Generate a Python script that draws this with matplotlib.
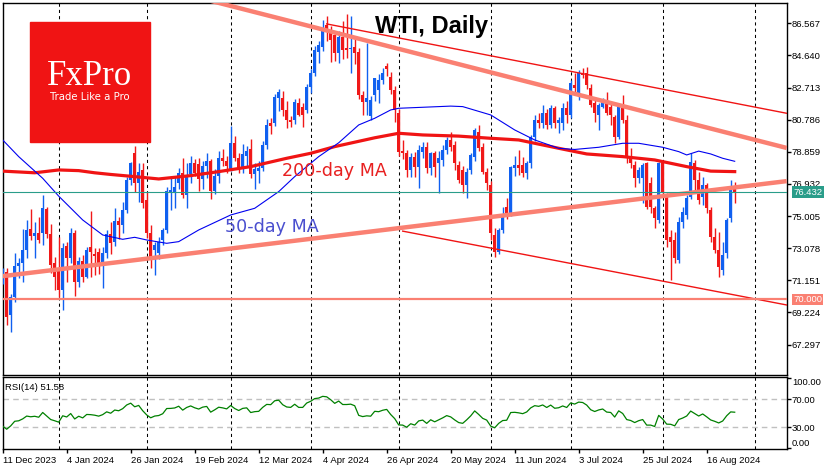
import numpy as np
import matplotlib
matplotlib.use("Agg")
import matplotlib.pyplot as plt
from matplotlib.patches import Rectangle
from matplotlib.transforms import offset_copy

plt.rcParams['font.family'] = ['Liberation Sans', 'DejaVu Sans']

# daily bars, index 0 = 11 Dec 2023 ... 183 = 27 Aug 2024
opens = [71.20, 71.67, 69.07, 70.17, 72.00, 72.17, 72.97, 74.23, 73.81, 73.97,
         73.97, 75.43, 73.93, 72.17, 71.87, 70.57, 73.21, 72.47, 73.97, 71.07,
         72.31, 71.37, 73.17, 72.73, 72.83, 72.17, 72.77, 73.93, 73.47, 74.73,
         74.47, 75.37, 77.17, 78.77, 76.97, 77.77, 75.97, 73.97, 72.97, 72.77,
         73.57, 74.17, 76.37, 76.47, 76.97, 77.57, 76.27, 77.50, 78.20, 78.10,
         77.20, 78.00, 78.30, 76.50, 77.40, 78.50, 78.30, 77.80, 79.40, 78.50,
         77.90, 78.60, 79.00, 77.50, 77.70, 77.90, 79.27, 80.60, 80.57, 82.07,
         82.10, 81.37, 80.77, 80.77, 81.77, 81.57, 81.37, 82.77, 83.57, 84.87,
         85.17, 86.47, 86.17, 85.87, 84.77, 85.77, 85.07, 85.00, 85.17, 84.87,
         82.27, 81.87, 81.00, 82.27, 82.57, 83.17, 84.00, 83.37, 82.57, 81.17,
         78.90, 78.77, 77.77, 78.57, 77.97, 78.87, 79.17, 77.87, 78.77, 78.17,
         78.37, 78.97, 79.57, 79.27, 78.07, 77.77, 76.87, 77.77, 78.57, 80.07,
         79.13, 77.67, 76.87, 73.87, 72.87, 74.17, 75.57, 75.17, 77.90, 78.07,
         78.07, 77.57, 78.17, 79.77, 80.77, 80.57, 81.17, 80.47, 81.47, 80.57,
         80.57, 81.47, 81.07, 82.87, 82.37, 83.57, 83.57, 82.67, 81.77, 81.07,
         81.57, 81.77, 81.57, 80.97, 79.77, 81.57, 80.77, 78.57, 78.07, 77.27,
         77.27, 78.17, 76.97, 75.47, 74.77, 78.17, 76.17, 73.77, 73.57, 72.37,
         74.67, 75.07, 76.17, 78.17, 77.17, 76.17, 76.87, 75.37, 73.77, 72.97,
         71.77, 72.77, 74.87, 76.77]
highs = [71.90, 71.90, 70.30, 72.77, 72.50, 74.20, 74.77, 75.43, 74.67, 74.93,
         76.27, 75.57, 74.51, 72.57, 73.77, 73.37, 73.47, 74.31, 74.17, 72.57,
         72.67, 73.17, 75.31, 73.07, 73.07, 73.17, 74.17, 74.63, 75.47, 74.97,
         75.87, 77.37, 78.27, 79.21, 78.17, 78.17, 76.47, 74.47, 73.47, 73.77,
         74.27, 76.77, 77.37, 77.37, 77.87, 78.47, 78.20, 78.60, 78.40, 78.50,
         78.30, 78.80, 78.40, 77.80, 78.90, 79.00, 78.60, 80.40, 79.80, 78.80,
         79.30, 79.20, 79.60, 78.20, 78.30, 79.50, 80.80, 80.90, 82.30, 82.60,
         82.50, 81.90, 81.00, 82.00, 82.10, 81.80, 82.90, 83.80, 85.20, 85.50,
         86.77, 87.00, 86.40, 86.10, 86.10, 86.70, 87.10, 87.00, 85.60, 85.10,
         82.50, 85.40, 82.20, 83.30, 83.50, 83.87, 84.17, 83.67, 82.80, 81.40,
         79.57, 78.97, 78.77, 78.87, 79.27, 79.47, 79.47, 78.87, 78.90, 78.90,
         79.27, 79.77, 80.07, 79.50, 78.30, 78.00, 77.90, 78.80, 80.27, 80.47,
         79.40, 77.90, 77.10, 74.30, 74.27, 75.57, 76.07, 78.00, 78.60, 78.97,
         78.57, 78.30, 79.87, 81.07, 81.20, 81.67, 81.40, 81.67, 81.60, 80.97,
         81.77, 81.90, 83.17, 83.57, 83.77, 83.87, 83.97, 82.90, 81.97, 81.77,
         82.07, 82.47, 81.70, 81.07, 81.67, 82.27, 81.07, 79.07, 78.30, 77.97,
         78.17, 78.27, 77.37, 75.60, 78.27, 78.27, 76.40, 74.17, 74.07, 74.97,
         75.57, 76.27, 78.77, 78.37, 77.67, 77.37, 76.97, 75.57, 74.27, 74.07,
         73.47, 74.87, 77.17, 77.07]
lows = [70.90, 68.47, 68.03, 69.87, 71.30, 71.07, 72.47, 73.57, 72.47, 73.37,
        73.27, 73.70, 71.57, 70.57, 70.17, 69.37, 71.07, 72.20, 70.23, 70.77,
        71.07, 71.27, 71.37, 71.47, 71.50, 70.67, 72.50, 72.70, 73.20, 73.60,
        74.00, 75.20, 76.87, 76.47, 75.87, 75.50, 73.70, 71.87, 71.47, 72.40,
        73.27, 74.00, 75.37, 75.47, 76.60, 76.07, 75.50, 77.00, 77.40, 76.50,
        76.60, 77.30, 76.00, 76.30, 77.00, 78.00, 77.60, 77.70, 78.30, 77.60,
        77.60, 78.00, 77.30, 76.60, 77.00, 77.70, 79.00, 79.90, 80.40, 81.30,
        81.00, 80.30, 80.37, 80.50, 81.00, 80.37, 81.20, 82.40, 83.40, 84.20,
        84.90, 85.50, 84.27, 84.30, 84.20, 84.40, 84.50, 83.60, 84.10, 82.00,
        81.07, 81.07, 80.77, 81.90, 81.77, 82.90, 83.40, 82.30, 80.67, 78.60,
        78.40, 77.37, 77.37, 77.37, 76.67, 78.50, 77.60, 77.47, 77.37, 76.37,
        78.00, 78.70, 78.90, 77.77, 77.00, 76.37, 76.07, 77.50, 78.30, 78.90,
        77.50, 76.57, 73.57, 72.57, 72.70, 74.00, 74.80, 75.00, 77.40, 77.47,
        77.37, 77.20, 77.90, 79.50, 80.30, 80.30, 80.20, 80.30, 80.30, 79.97,
        80.17, 80.57, 80.90, 82.37, 81.97, 83.30, 82.60, 81.57, 80.67, 80.17,
        81.47, 81.07, 80.47, 79.37, 79.60, 80.60, 78.17, 77.90, 76.77, 77.00,
        75.77, 75.40, 75.20, 74.27, 74.60, 76.20, 73.17, 71.17, 72.20, 72.20,
        74.30, 74.80, 76.00, 76.47, 75.70, 75.67, 75.20, 73.47, 72.77, 71.37,
        71.47, 72.50, 74.67, 75.77]
closes = [71.50, 68.97, 70.17, 72.00, 72.20, 72.97, 74.17, 73.81, 74.01, 73.57,
          75.47, 73.91, 72.07, 71.37, 70.57, 73.07, 72.47, 73.97, 71.07, 72.31,
          71.37, 72.97, 72.87, 72.61, 72.17, 72.77, 73.93, 73.37, 74.73, 74.47,
          75.37, 77.17, 78.17, 76.97, 77.67, 75.77, 73.97, 72.57, 73.27, 73.47,
          74.17, 76.50, 76.57, 76.77, 77.57, 76.27, 77.47, 78.20, 77.60, 77.20,
          78.00, 78.30, 76.50, 77.40, 78.50, 78.30, 78.00, 79.40, 78.50, 77.90,
          78.70, 78.90, 77.50, 77.80, 77.90, 79.27, 80.47, 80.40, 82.17, 82.47,
          81.37, 80.77, 80.67, 81.87, 81.07, 81.07, 82.77, 83.57, 84.97, 85.27,
          86.27, 86.17, 85.57, 84.77, 85.77, 84.97, 84.97, 85.10, 84.77, 82.27,
          81.87, 82.07, 81.97, 83.27, 83.17, 83.57, 83.80, 82.57, 81.37, 78.87,
          78.80, 77.77, 78.57, 77.97, 78.97, 79.17, 77.87, 78.77, 77.97, 78.47,
          78.97, 79.57, 79.17, 78.17, 77.17, 76.87, 77.67, 78.67, 80.17, 79.07,
          77.67, 76.97, 73.97, 72.87, 74.17, 75.07, 75.17, 77.97, 78.07, 77.87,
          77.57, 78.17, 79.77, 80.77, 80.57, 81.17, 80.47, 81.47, 80.57, 80.77,
          81.47, 81.07, 82.97, 82.67, 83.57, 83.47, 82.87, 81.67, 81.17, 81.67,
          81.97, 81.17, 81.07, 79.77, 81.57, 80.77, 78.57, 78.17, 77.27, 77.77,
          78.07, 75.57, 75.57, 74.87, 78.17, 76.47, 73.57, 73.47, 72.47, 74.67,
          75.27, 76.07, 78.27, 77.17, 75.97, 76.87, 75.47, 73.77, 72.97, 71.97,
          72.67, 74.77, 76.57, 76.43]
# closes before the visible range (for the RSI start)
prior_closes = [77.83, 77.77, 77.10, 75.54, 74.86, 76.41, 77.86, 75.96, 74.07,
                72.04, 72.32, 69.38, 69.34, 71.23]

# moving averages (bar index, value)
ma50_bars = [0, 4, 10, 14, 20, 25, 30, 33, 36, 41, 44, 49, 57, 63, 69, 73, 79, 84,
             89, 93, 97, 99, 105, 112, 115, 122, 128, 133, 139, 143, 149, 155,
             159, 165, 169, 171, 174, 177, 180, 183]
ma50_vals = [79.57, 78.57, 77.27, 76.20, 74.77, 73.87, 73.61, 73.73, 73.57, 73.37,
             73.47, 74.17, 75.07, 75.47, 76.47, 77.37, 78.57, 79.40, 80.47, 80.87,
             81.37, 81.47, 81.53, 81.60, 81.57, 81.07, 80.17, 79.57, 79.07, 79.00,
             79.13, 79.37, 79.37, 79.13, 78.87, 78.67, 78.90, 78.73, 78.47, 78.29]
ma200_bars = [0, 8, 14, 19, 23, 27, 33, 39, 47, 54, 62, 71, 77, 83, 93, 99, 105,
              114, 122, 129, 139, 146, 155, 163, 171, 177, 183]
ma200_vals = [77.70, 77.60, 77.77, 77.73, 77.60, 77.50, 77.37, 77.23, 77.43, 77.67,
              77.97, 78.47, 78.77, 79.17, 79.70, 79.97, 79.87, 79.80, 79.67, 79.57,
              79.07, 78.73, 78.57, 78.37, 77.97, 77.70, 77.67]

# drawn lines (bar index, price)
support_x, support_y = [0, 196], [71.40, 77.10]
resist_x, resist_y = [40, 196], [88.65, 79.09]
chan_up_x, chan_up_y = [81, 196], [86.53, 81.17]
chan_dn_x, chan_dn_y = [100, 196], [74.10, 69.67]
level_price = 70.0
last_price = 76.432

price_ticks = [86.567, 84.640, 82.713, 80.786, 78.859, 76.932, 75.005, 73.078,
               71.151, 69.224, 67.297]
date_bars = [0, 16, 32, 48, 64, 80, 96, 112, 128, 144, 160, 176]
date_labels = ['11 Dec 2023', '4 Jan 2024', '26 Jan 2024', '19 Feb 2024',
               '12 Mar 2024', '4 Apr 2024', '26 Apr 2024', '20 May 2024',
               '11 Jun 2024', '3 Jul 2024', '25 Jul 2024', '16 Aug 2024']
month_bars = [14, 36, 57, 77, 99, 122, 142, 165, 188]

BLUE = '#1060f0'
RED = '#f01818'
SALMON = '#fa8072'
TEAL = '#2a9d8a'

W, H = 835, 470
fig = plt.figure(figsize=(W / 100, H / 100), dpi=100)


def box(l, t, r, b):
    return [l / W, 1 - b / H, (r - l) / W, (b - t) / H]


ax = fig.add_axes(box(2.7, 3, 787, 375))
rax = fig.add_axes(box(2.7, 377.3, 787, 449.3))

xmax = (787 - 2.7) / 4
for a in (ax, rax):
    a.set_xlim(0, xmax)
    for s in a.spines.values():
        s.set_linewidth(1)
    for m in month_bars:
        a.axvline(m, color='black', lw=0.75, dashes=(3, 3), zorder=1)

ax.set_ylim(65.47, 87.785)

# candles
o, h, l, c = map(np.array, (opens, highs, lows, closes))
x = np.arange(len(c))
cols = np.where(c >= o, BLUE, RED)
ax.vlines(x, l, h, colors=cols, lw=1, zorder=3)
ax.bar(x, np.maximum(np.abs(c - o), 0.05), bottom=np.minimum(o, c), width=0.72,
       color=cols, linewidth=0, zorder=3)

ax.plot(ma200_bars, ma200_vals, color='#f01414', lw=2.3, zorder=4)
ax.plot(ma50_bars, ma50_vals, color='#0000f0', lw=0.8, zorder=4)

ax.plot(support_x, support_y, color=SALMON, lw=3.2, zorder=5, solid_capstyle='butt')
ax.plot(resist_x, resist_y, color=SALMON, lw=3.2, zorder=5, solid_capstyle='butt')
ax.plot(chan_up_x, chan_up_y, color='#f01414', lw=1, zorder=5)
ax.plot(chan_dn_x, chan_dn_y, color='#f01414', lw=1, zorder=5)
ax.axhline(level_price, color=SALMON, lw=1.6, zorder=5)
ax.axhline(last_price, color=TEAL, lw=0.8, zorder=5)

ax.set_xticks([])
ax.yaxis.tick_right()
ax.set_yticks(price_ticks)
ax.set_yticklabels(['%.3f' % p for p in price_ticks])
ax.tick_params(axis='y', length=3, width=1, pad=0.5, labelsize=6.8)

tr = offset_copy(ax.get_yaxis_transform(), fig=fig, x=6, y=0, units='dots')
for val, col in ((last_price, TEAL), (level_price, SALMON)):
    ax.text(1.0, val, '%.3f' % val, transform=tr, ha='left', va='center',
            fontsize=6.8, color='white', clip_on=False, zorder=10,
            bbox=dict(boxstyle='square,pad=0.15', fc=col, ec='none'))

# RSI(14)
allc = np.array(prior_closes + closes)
d = np.diff(allc)
g, ls = np.clip(d, 0, None), np.clip(-d, 0, None)
ag, al = g[:14].mean(), ls[:14].mean()
rsi = [100 - 100 / (1 + ag / al)]
for gi, li in zip(g[14:], ls[14:]):
    ag = (ag * 13 + gi) / 14
    al = (al * 13 + li) / 14
    rsi.append(100 - 100 / (1 + ag / al))

rax.set_ylim(-1.4, 101.4)
for lvl in (30, 70):
    rax.axhline(lvl, color='#c0c0c0', lw=1, dashes=(4, 3), zorder=1)
rax.plot(x, rsi, color='#008000', lw=0.9, zorder=3)
rax.yaxis.tick_right()
rax.set_yticks([0, 30, 70, 100])
rax.set_yticklabels(['0.00', '30.00', '70.00', '100.00'])
rax.tick_params(axis='y', length=3, width=1, pad=0.5, labelsize=6.8)
ylabs = rax.yaxis.get_major_ticks()
ylabs[0].label2.set_va('bottom')
ylabs[3].label2.set_va('top')
rax.set_xticks(date_bars)
rax.set_xticklabels(date_labels, ha='left')
rax.tick_params(axis='x', length=3, width=1, pad=1.5, labelsize=6.8)

fig.text(5 / W, 1 - 390 / H, 'RSI(14) 51.58', fontsize=6.8, va='baseline')

# labels on the chart
fig.text(375 / W, 1 - 33 / H, 'WTI, Daily', fontsize=17, fontweight='bold',
         va='baseline')
fig.text(282 / W, 1 - 175.7 / H, '200-day MA', fontsize=12.6, color='#e82020',
         family='DejaVu Sans', va='baseline')
fig.text(225 / W, 1 - 231.7 / H, '50-day MA', fontsize=12.6, color='#4a4fcf',
         family='DejaVu Sans', va='baseline')

# logo
fig.add_artist(Rectangle((30 / W, 1 - 142 / H), 120 / W, 120 / H,
                         transform=fig.transFigure, color='#f01414', zorder=6))
fig.text(90 / W, 1 - 85 / H, 'FxPro', fontsize=25, color='white',
         family='Liberation Serif', ha='center', va='baseline', zorder=7)
fig.text(90 / W, 1 - 100 / H, 'Trade Like a Pro', fontsize=7.3, color='white',
         family='DejaVu Sans', ha='center', va='baseline', zorder=7)

fig.savefig('out.png', dpi=100)
